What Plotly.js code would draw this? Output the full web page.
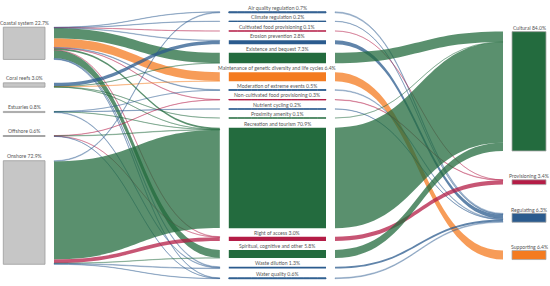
<!DOCTYPE html>
<html><head><meta charset="utf-8">
<script src="https://cdn.plot.ly/plotly-3.0.1.min.js"></script>
<style>html,body{margin:0;padding:0;background:#fff}#chart{width:550px;height:286px}</style>
</head><body><div id="chart"></div>
<script>
// ---------------- DATA ----------------
const sources = ['Coastal system','Coral reefs','Estuaries','Offshore','Onshore'];
const sourceShare = [22.7, 3.0, 0.8, 0.6, 72.9];

const services = ['Air quality regulation','Climate regulation','Cultivated food provisioning','Erosion prevention',
  'Existence and bequest','Maintenance of genetic diversity and life cycles','Moderation of extreme events',
  'Non-cultivated food provisioning','Nutrient cycling','Proximity amenity','Recreation and tourism',
  'Right of access','Spiritual, cognitive and other','Waste dilution','Water quality'];
const serviceShare = [0.7, 0.2, 0.1, 2.8, 7.3, 6.4, 0.5, 0.3, 0.2, 0.1, 70.9, 3.0, 5.8, 1.3, 0.6];
const serviceCategory = ['Regulating','Regulating','Provisioning','Regulating','Cultural','Supporting','Regulating',
  'Provisioning','Regulating','Cultural','Cultural','Provisioning','Cultural','Regulating','Regulating'];

const categories = ['Cultural','Provisioning','Regulating','Supporting'];
const categoryShare = [84.0, 3.4, 6.3, 6.4];

// flows: ecosystem -> service (estimated)
const flowFrom = ['Coastal system','Coastal system','Coastal system','Coastal system','Coastal system','Coastal system',
  'Coastal system','Coastal system','Coastal system','Coastal system','Coastal system','Coastal system','Coastal system',
  'Coral reefs','Coral reefs','Coral reefs','Coral reefs','Coral reefs',
  'Estuaries','Estuaries','Estuaries','Estuaries',
  'Offshore','Offshore','Offshore','Offshore',
  'Onshore','Onshore','Onshore','Onshore','Onshore','Onshore'];
const flowTo = ['Air quality regulation','Climate regulation','Cultivated food provisioning','Erosion prevention',
  'Existence and bequest','Maintenance of genetic diversity and life cycles','Moderation of extreme events',
  'Non-cultivated food provisioning','Recreation and tourism','Right of access','Spiritual, cognitive and other',
  'Waste dilution','Water quality',
  'Erosion prevention','Existence and bequest','Maintenance of genetic diversity and life cycles','Proximity amenity','Recreation and tourism',
  'Moderation of extreme events','Nutrient cycling','Recreation and tourism','Waste dilution',
  'Non-cultivated food provisioning','Recreation and tourism','Right of access','Water quality',
  'Air quality regulation','Recreation and tourism','Right of access','Spiritual, cognitive and other','Waste dilution','Water quality'];
const flowValue = [0.2,0.2,0.1,0.3,7.2,6.2,0.4,0.2,1.2,0.3,5.6,0.5,0.3,
  2.5,0.1,0.2,0.1,0.1,
  0.1,0.2,0.1,0.4,
  0.1,0.3,0.1,0.1,
  0.5,69.0,2.6,0.2,0.4,0.2];

// ---------------- LAYOUT / STYLE ----------------
const W = 550, H = 286, T = 9;            // figure size, node thickness (px)
const colX = {pre:-1.2, src:49.5, svcIn:224.3, svcOut:330.5, catIn:507.5, catOut:550.5}; // node centres px
const srcY = [43.3, 85, 112, 136, 212.5];
const svcY = [12.3, 21.3, 31, 42.2, 58, 76.7, 90, 99.7, 109, 118, 178, 238.8, 254, 267.7, 278.3];
const catY = [91.3, 182.2, 217.8, 255];
const PAD = 10.26;
const catColor = {Cultural:'#236b3e', Provisioning:'#b41c46', Regulating:'#2b5b8e', Supporting:'#f47b20'};
const catRGB = {Cultural:'35,107,62', Provisioning:'180,28,70', Regulating:'43,91,142', Supporting:'244,123,32'};
function linkCol(cat, v){ return `rgba(${catRGB[cat]},${v < 1 ? 0.32 : 0.75})`; }
const txt = {family:'Lato, "Open Sans", sans-serif', size:5.1, color:'#555'};

// ---------------- BUILD ----------------
const nS = sources.length, nV = services.length, nC = categories.length;
const idx = {pre:0, src:nS, svcIn:2*nS, svcOut:2*nS+nV, catIn:2*nS+2*nV, catOut:2*nS+2*nV+nC};
const nodeX = [], nodeY = [];
function pushCol(key, ys){ ys.forEach(y => { nodeX.push(colX[key]/W); nodeY.push(y/H); }); }
pushCol('pre', srcY); pushCol('src', srcY); pushCol('svcIn', svcY); pushCol('svcOut', svcY); pushCol('catIn', catY); pushCol('catOut', catY);
const nN = nodeX.length;

const L = {source:[], target:[], value:[], color:[]};
function addLink(s,t,v,c){ L.source.push(s); L.target.push(t); L.value.push(v); L.color.push(c); }
sources.forEach((s,i) => addLink(idx.pre+i, idx.src+i, sourceShare[i], '#c6c6c6'));
flowFrom.forEach((f,k) => {
  const i = sources.indexOf(f), j = services.indexOf(flowTo[k]);
  addLink(idx.src+i, idx.svcIn+j, flowValue[k], linkCol(serviceCategory[j], flowValue[k]));
});
services.forEach((s,j) => {
  const cat = serviceCategory[j];
  addLink(idx.svcIn+j, idx.svcOut+j, serviceShare[j], catColor[cat]);
  addLink(idx.svcOut+j, idx.catIn+categories.indexOf(cat), serviceShare[j], linkCol(cat, serviceShare[j]));
});
categories.forEach((c,k) => addLink(idx.catIn+k, idx.catOut+k, categoryShare[k], catColor[c]));

const trace = {
  type:'sankey', arrangement:'fixed', orientation:'h',
  domain:{x:[0,1], y:[0,1]},
  hoverinfo:'none',
  node:{pad:PAD, thickness:T, x:nodeX, y:nodeY, label:new Array(nN).fill(''),
        color:new Array(nN).fill('rgba(0,0,0,0)'), line:{width:0, color:'rgba(0,0,0,0)'}, hoverinfo:'none'},
  link:{source:L.source, target:L.target, value:L.value, color:L.color,
        line:{color:'rgba(0,0,0,0)', width:0}, hoverinfo:'none'}
};

// label annotations above each block (block top derived from value * scale)
const sumCol = Math.max(serviceShare.reduce((a,b)=>a+b,0), 100);
const ky = (H - (nV-1)*PAD) / sumCol;
const ann = [], shapes = [];
function label(text, xc, yc, v, gap){
  const top = yc - v*ky/2;
  ann.push({text, x:xc/W, y:1-(top-gap)/H, xref:'paper', yref:'paper', showarrow:false,
    xanchor:'center', yanchor:'middle', font:txt});
}
function outline(x0, x1, yc, v, col){
  const h = Math.max(v*ky, 1);
  shapes.push({type:'rect', xref:'paper', yref:'paper', x0:x0/W, x1:x1/W,
    y0:1-(yc-h/2)/H, y1:1-(yc+h/2)/H, line:{color:col, width:0.8}, fillcolor:'rgba(0,0,0,0)', layer:'above'});
}
const leftX0 = colX.pre+T/2, leftX1 = colX.src-T/2;
const rightX0 = colX.catIn+T/2, rightX1 = colX.catOut-T/2;
const leftC = (leftX0+leftX1)/2;
const midC = ((colX.svcIn+T/2)+(colX.svcOut-T/2))/2;
const rightC = (rightX0+rightX1)/2;
sources.forEach((s,i) => { label(`${s} ${sourceShare[i].toFixed(1)}%`, leftC, srcY[i], sourceShare[i], 4.5);
  outline(leftX0, leftX1, srcY[i], sourceShare[i], '#9c9c9c'); });
services.forEach((s,j) => label(`${s} ${serviceShare[j].toFixed(1)}%`, midC, svcY[j], serviceShare[j], 4));
categories.forEach((c,k) => { label(`${c} ${categoryShare[k].toFixed(1)}%`, rightC, catY[k], categoryShare[k], 3.5);
  outline(rightX0, rightX1, catY[k], categoryShare[k], '#a8a8a8'); });

Plotly.newPlot('chart', [trace], {
  width:W, height:H, margin:{l:0,r:0,t:0,b:0}, paper_bgcolor:'#fff', plot_bgcolor:'#fff',
  annotations:ann, shapes:shapes, showlegend:false
}, {displayModeBar:false, staticPlot:true});
</script></body></html>
